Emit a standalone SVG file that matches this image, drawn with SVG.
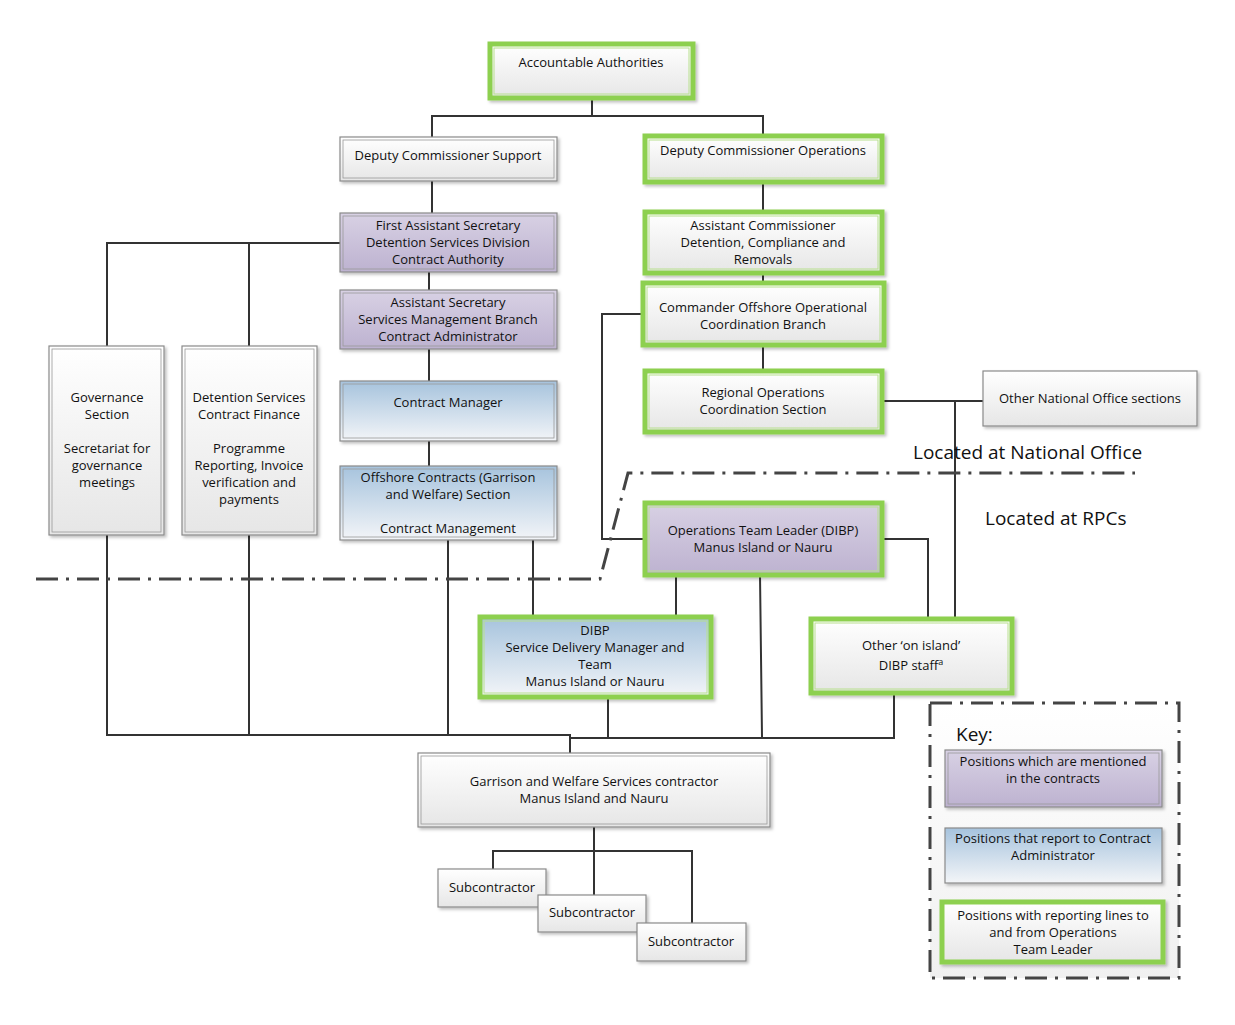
<svg xmlns="http://www.w3.org/2000/svg" width="1235" height="1025" viewBox="0 0 1235 1025">
<defs>
<linearGradient id="gw" x1="0" y1="0" x2="0" y2="1"><stop offset="0" stop-color="#ffffff"/><stop offset="1" stop-color="#e6e6e6"/></linearGradient>
<linearGradient id="gp" x1="0" y1="0" x2="0" y2="1"><stop offset="0" stop-color="#d8d1e4"/><stop offset="1" stop-color="#bdb2d0"/></linearGradient>
<linearGradient id="gb" x1="0" y1="0" x2="0" y2="1"><stop offset="0" stop-color="#a6c3dd"/><stop offset="1" stop-color="#f3f5f8"/></linearGradient>
<filter id="sh" x="-5%" y="-5%" width="115%" height="120%"><feDropShadow dx="2" dy="2" stdDeviation="1.5" flood-color="#000" flood-opacity="0.25"/></filter>
</defs>
<style>
text{font-family:"Open Sans","Liberation Sans",sans-serif;font-size:13px;fill:#111;text-anchor:middle}
.b{stroke:#8a8a8a;stroke-width:1.2;filter:url(#sh)}
.i{fill:none;stroke:#9a9a9a;stroke-width:0.8}
.g{stroke:#8dd04f;stroke-width:5;filter:url(#sh)}
.gi{fill:none;stroke:#b8e08e;stroke-width:1}
.c path{fill:none;stroke:#333;stroke-width:2}
.d{fill:none;stroke:#444;stroke-width:3;stroke-dasharray:22 8 3 8}
.big{font-size:19px;text-anchor:start}
</style>
<rect width="1235" height="1025" fill="#fff"/>
<g class="c">
<path d="M592,98V116M432,137V116H763V136"/>
<path d="M432,181V213"/>
<path d="M340,243H107V346M249,243V346"/>
<path d="M429,272V290M429,349V381M429,441V466"/>
<path d="M763,182V212M763,273V283M763,345V371"/>
<path d="M882,401H983M955,401V619"/>
<path d="M643,314H602V539H645"/>
<path d="M882,539H928V619"/>
<path d="M676,575V617M760,575L762,737"/>
<path d="M533,540V617M448,540V735"/>
<path d="M107,535V735H570V753M249,535V735M570,738H894V693M608,697V738"/>
<path d="M594,827V895M493,869V851H692V923"/>
</g>
<path class="d" d="M36,579H600L628,473H1135"/>
<text class="big" x="913" y="459">Located at National Office</text>
<text class="big" x="985" y="525">Located at RPCs</text>

<g id="n-acc"><rect class="g" x="490" y="44" width="203" height="54" fill="url(#gw)"/><rect class="gi" x="494" y="48" width="195" height="46"/><text x="591" y="67">Accountable Authorities</text></g>
<g id="n-dcs"><rect class="b" x="340" y="137" width="217" height="44" fill="url(#gw)"/><rect class="i" x="343" y="140" width="211" height="38"/><text x="448" y="160">Deputy Commissioner Support</text></g>
<g id="n-dco"><rect class="g" x="645" y="136" width="237" height="46" fill="url(#gw)"/><rect class="gi" x="649" y="140" width="229" height="38"/><text x="763" y="155">Deputy Commissioner Operations</text></g>
<g id="n-fas"><rect class="b" x="340" y="213" width="217" height="59" fill="url(#gp)"/><rect class="i" x="343" y="216" width="211" height="53"/><text x="448" y="230">First Assistant Secretary</text><text x="448" y="247">Detention Services Division</text><text x="448" y="264">Contract Authority</text></g>
<g id="n-ac"><rect class="g" x="645" y="212" width="237" height="61" fill="url(#gw)"/><rect class="gi" x="649" y="216" width="229" height="53"/><text x="763" y="230">Assistant Commissioner</text><text x="763" y="247">Detention, Compliance and</text><text x="763" y="264">Removals</text></g>
<g id="n-as"><rect class="b" x="340" y="290" width="217" height="59" fill="url(#gp)"/><rect class="i" x="343" y="293" width="211" height="53"/><text x="448" y="307">Assistant Secretary</text><text x="448" y="324">Services Management Branch</text><text x="448" y="341">Contract Administrator</text></g>
<g id="n-com"><rect class="g" x="643" y="283" width="241" height="62" fill="url(#gw)"/><rect class="gi" x="647" y="287" width="233" height="54"/><text x="763" y="312">Commander Offshore Operational</text><text x="763" y="329">Coordination Branch</text></g>
<g id="n-cm"><rect class="b" x="340" y="381" width="217" height="60" fill="url(#gb)"/><rect class="i" x="343" y="384" width="211" height="54"/><text x="448" y="407">Contract Manager</text></g>
<g id="n-ros"><rect class="g" x="645" y="371" width="237" height="61" fill="url(#gw)"/><rect class="gi" x="649" y="375" width="229" height="53"/><text x="763" y="397">Regional Operations</text><text x="763" y="414">Coordination Section</text></g>
<g id="n-onos"><rect class="b" x="983" y="371" width="214" height="55" fill="url(#gw)"/><text x="1090" y="403">Other National Office sections</text></g>
<g id="n-ocs"><rect class="b" x="340" y="466" width="217" height="74" fill="url(#gb)"/><rect class="i" x="343" y="469" width="211" height="68"/><text x="448" y="482">Offshore Contracts (Garrison</text><text x="448" y="499">and Welfare) Section</text><text x="448" y="533">Contract Management</text></g>
<g id="n-gov"><rect class="b" x="49" y="346" width="115" height="189" fill="url(#gw)"/><rect class="i" x="52" y="349" width="109" height="183"/><text x="107" y="402">Governance</text><text x="107" y="419">Section</text><text x="107" y="453">Secretariat for</text><text x="107" y="470">governance</text><text x="107" y="487">meetings</text></g>
<g id="n-dscf"><rect class="b" x="182" y="346" width="135" height="189" fill="url(#gw)"/><rect class="i" x="185" y="349" width="129" height="183"/><text x="249" y="402">Detention Services</text><text x="249" y="419">Contract Finance</text><text x="249" y="453">Programme</text><text x="249" y="470">Reporting, Invoice</text><text x="249" y="487">verification and</text><text x="249" y="504">payments</text></g>
<g id="n-otl"><rect class="g" x="645" y="503" width="237" height="72" fill="url(#gp)"/><rect class="gi" x="649" y="507" width="229" height="64"/><text x="763" y="535">Operations Team Leader (DIBP)</text><text x="763" y="552">Manus Island  or Nauru</text></g>
<g id="n-sdm"><rect class="g" x="480" y="617" width="231" height="80" fill="url(#gb)"/><rect class="gi" x="484" y="621" width="223" height="72"/><text x="595" y="635">DIBP</text><text x="595" y="652">Service Delivery Manager and</text><text x="595" y="669">Team</text><text x="595" y="686">Manus Island  or Nauru</text></g>
<g id="n-oth"><rect class="g" x="811" y="619" width="201" height="74" fill="url(#gw)"/><rect class="gi" x="815" y="623" width="193" height="66"/><text x="911" y="650">Other ‘on island’</text><text x="911" y="670">DIBP staff<tspan font-size="9" dy="-5">a</tspan></text></g>
<g id="n-gws"><rect class="b" x="418" y="753" width="352" height="74" fill="url(#gw)"/><rect class="i" x="421" y="756" width="346" height="68"/><text x="594" y="786">Garrison and Welfare Services contractor</text><text x="594" y="803">Manus Island and Nauru</text></g>
<g id="n-s1"><rect class="b" x="438" y="869" width="108" height="38" fill="url(#gw)"/><text x="492" y="892">Subcontractor</text></g>
<g id="n-s2"><rect class="b" x="538" y="895" width="108" height="37" fill="url(#gw)"/><text x="592" y="917">Subcontractor</text></g>
<g id="n-s3"><rect class="b" x="637" y="923" width="109" height="38" fill="url(#gw)"/><text x="691" y="946">Subcontractor</text></g>
<g id="key">
<rect x="930" y="703" width="249" height="275" fill="url(#gw)" opacity="0.6"/>
<rect x="930" y="703" width="249" height="275" class="d" stroke-width="2"/>
<text class="big" x="956" y="741" style="font-size:19px">Key:</text>
<rect class="b" x="945" y="750" width="217" height="57" fill="url(#gp)"/><rect class="i" x="948" y="753" width="211" height="51"/><text x="1053" y="766">Positions which are mentioned</text><text x="1053" y="783">in the contracts</text>
<rect class="b" x="945" y="828" width="217" height="55" fill="url(#gb)"/><text x="1053" y="843">Positions that report to Contract</text><text x="1053" y="860">Administrator</text>
<rect class="g" x="942" y="902" width="221" height="60" fill="url(#gw)"/><text x="1053" y="920">Positions with reporting lines to</text><text x="1053" y="937">and from Operations</text><text x="1053" y="954">Team Leader</text>
</g>
</svg>
